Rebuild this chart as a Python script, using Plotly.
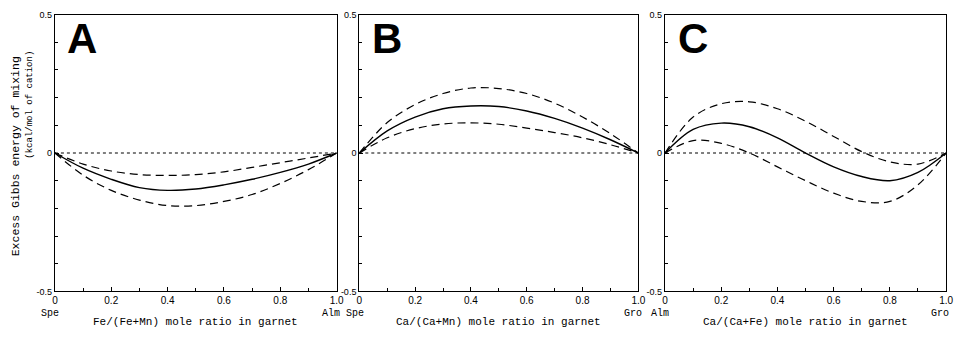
import plotly.graph_objects as go

x = [0.0, 0.1, 0.2, 0.3, 0.4, 0.5, 0.6, 0.7, 0.8, 0.9, 1.0]

# Panel A: Spe - Alm
a_solid = [0.0, -0.055, -0.095, -0.125, -0.135, -0.13, -0.115, -0.095, -0.07, -0.04, 0.0]
a_upper = [0.0, -0.04, -0.065, -0.078, -0.081, -0.078, -0.068, -0.052, -0.035, -0.018, 0.0]
a_lower = [0.0, -0.08, -0.135, -0.17, -0.19, -0.19, -0.175, -0.15, -0.11, -0.06, 0.0]

# Panel B: Spe - Gro
b_solid = [0.0, 0.08, 0.13, 0.16, 0.17, 0.168, 0.152, 0.125, 0.09, 0.048, 0.0]
b_upper = [0.0, 0.11, 0.175, 0.215, 0.235, 0.233, 0.215, 0.18, 0.13, 0.07, 0.0]
b_lower = [0.0, 0.055, 0.088, 0.105, 0.109, 0.104, 0.09, 0.074, 0.055, 0.03, 0.0]

# Panel C: Alm - Gro
c_solid = [0.0, 0.085, 0.108, 0.095, 0.055, 0.0, -0.05, -0.085, -0.1, -0.07, 0.0]
c_upper = [0.0, 0.13, 0.178, 0.185, 0.16, 0.115, 0.06, 0.005, -0.032, -0.04, 0.0]
c_lower = [0.0, 0.045, 0.035, 0.0, -0.05, -0.1, -0.145, -0.175, -0.175, -0.115, 0.0]

zero = [0.0] * len(x)

panels = [
    ("A", a_solid, a_upper, a_lower, "Fe/(Fe+Mn) mole ratio in garnet", "Spe", "Alm"),
    ("B", b_solid, b_upper, b_lower, "Ca/(Ca+Mn) mole ratio in garnet", "Spe", "Gro"),
    ("C", c_solid, c_upper, c_lower, "Ca/(Ca+Fe) mole ratio in garnet", "Alm", "Gro"),
]

x_domains = [(0.0543, 0.349), (0.3727, 0.6646), (0.6925, 0.9865)]
y_domain = (0.14, 0.971)

xtick_vals = [0, 0.2, 0.4, 0.6, 0.8, 1.0]
xtick_text = ["0", "0.2", "0.4", "0.6", "0.8", "1.0"]
ytick_vals = [-0.5, 0, 0.5]
ytick_text = ["-0.5", "0", "0.5"]

fig = go.Figure()
mono = "Liberation Mono, DejaVu Sans Mono, monospace"
sans = "Liberation Sans, Arial, sans-serif"

annotations = []
for i, (letter, s, u, l, title, left_lab, right_lab) in enumerate(panels):
    n = "" if i == 0 else str(i + 1)
    xa, ya = "x" + n, "y" + n
    line_common = dict(shape="spline", smoothing=1.0)
    fig.add_trace(go.Scatter(x=x, y=zero, mode="lines", xaxis=xa, yaxis=ya,
                             line=dict(color="black", width=1.2, dash="dot")))
    fig.add_trace(go.Scatter(x=x, y=u, mode="lines", xaxis=xa, yaxis=ya,
                             line=dict(color="black", width=1.2, dash="8px,5px", **line_common)))
    fig.add_trace(go.Scatter(x=x, y=l, mode="lines", xaxis=xa, yaxis=ya,
                             line=dict(color="black", width=1.2, dash="8px,5px", **line_common)))
    fig.add_trace(go.Scatter(x=x, y=s, mode="lines", xaxis=xa, yaxis=ya,
                             line=dict(color="black", width=1.4, **line_common)))

    fig.layout["xaxis" + n] = dict(
        domain=list(x_domains[i]), range=[0, 1], anchor=ya,
        showgrid=False, zeroline=False, showline=True, linecolor="black", linewidth=1.2,
        mirror=True, ticks="inside", ticklen=4, tickcolor="black",
        tickvals=xtick_vals, ticktext=xtick_text,
        minor=dict(ticks="inside", ticklen=3, dtick=0.1, tick0=0, tickcolor="black"),
        tickfont=dict(family=sans, size=10, color="black"),
    )
    fig.layout["yaxis" + n] = dict(
        domain=list(y_domain), range=[-0.5, 0.5], anchor=xa,
        showgrid=False, zeroline=False, showline=True, linecolor="black", linewidth=1.2,
        mirror=True, ticks="inside", ticklen=4, tickcolor="black",
        tickvals=ytick_vals, ticktext=ytick_text,
        minor=dict(ticks="inside", ticklen=3, dtick=0.1, tick0=0, tickcolor="black"),
        tickfont=dict(family=sans, size=9, color="black"),
    )

    x0, x1 = x_domains[i]
    annotations.append(dict(text="<b>%s</b>" % letter, xref="paper", yref="paper",
                            x=x0 + 0.011, y=0.975, xanchor="left", yanchor="top",
                            showarrow=False, font=dict(family=sans, size=42, color="black")))
    annotations.append(dict(text=title, xref="paper", yref="paper",
                            x=(x0 + x1) / 2, y=1 - 327 / 343, xanchor="center", yanchor="middle",
                            showarrow=False, font=dict(family=mono, size=11, color="black")))
    annotations.append(dict(text=left_lab, xref="paper", yref="paper",
                            x=x0 - 0.005, y=1 - 318 / 343, xanchor="center", yanchor="middle",
                            showarrow=False, font=dict(family=mono, size=10, color="black")))
    annotations.append(dict(text=right_lab, xref="paper", yref="paper",
                            x=x1 - 0.006, y=1 - 318 / 343, xanchor="center", yanchor="middle",
                            showarrow=False, font=dict(family=mono, size=10, color="black")))

annotations.append(dict(text="Excess Gibbs energy of mixing", xref="paper", yref="paper",
                        x=13 / 966, y=1 - 156 / 343, xanchor="center", yanchor="middle",
                        textangle=-90, showarrow=False,
                        font=dict(family=mono, size=11.5, color="black")))
annotations.append(dict(text="(kcal/mol of cation)", xref="paper", yref="paper",
                        x=27 / 966, y=1 - 103 / 343, xanchor="center", yanchor="middle",
                        textangle=-90, showarrow=False,
                        font=dict(family=mono, size=9, color="black")))

fig.update_layout(
    width=966, height=343, margin=dict(l=0, r=0, t=0, b=0),
    paper_bgcolor="white", plot_bgcolor="white", showlegend=False,
    annotations=annotations,
)

fig.write_html("out.html")
